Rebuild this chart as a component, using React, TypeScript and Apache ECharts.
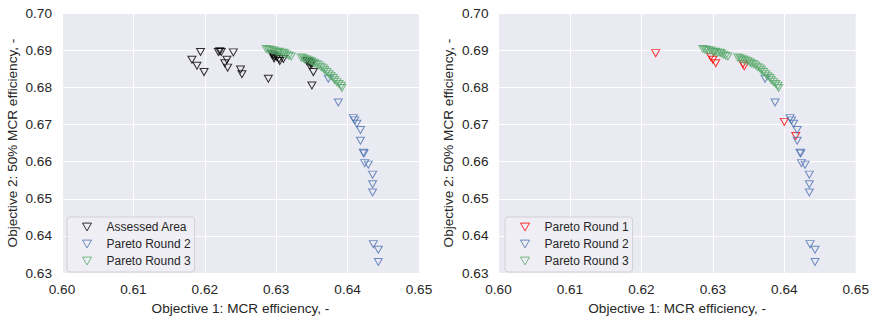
import React, { useEffect, useRef } from "react";
import * as echarts from "echarts";

const xTicks = [0.6, 0.61, 0.62, 0.63, 0.64, 0.65];
const yTicks = [0.63, 0.64, 0.65, 0.66, 0.67, 0.68, 0.69, 0.7];

const assessedX = [0.6194, 0.6182, 0.6189, 0.6199, 0.6219, 0.6221, 0.6223, 0.624, 0.6231, 0.6228, 0.6232, 0.625, 0.6252, 0.6289, 0.6294, 0.6296, 0.6298, 0.6301, 0.6304, 0.6305, 0.631, 0.6297, 0.6343, 0.6346, 0.6347, 0.635, 0.6352, 0.635, 0.6348];
const assessedY = [0.6895, 0.6874, 0.6858, 0.6841, 0.6895, 0.6897, 0.6895, 0.6894, 0.6874, 0.6865, 0.6853, 0.6848, 0.6835, 0.6823, 0.6889, 0.6886, 0.6884, 0.6881, 0.6876, 0.6871, 0.6876, 0.6878, 0.6871, 0.6868, 0.6858, 0.6863, 0.6841, 0.6805, 0.6865];

const round1X = [0.622, 0.6297, 0.63, 0.6304, 0.6342, 0.6344, 0.64, 0.6416];
const round1Y = [0.6892, 0.6882, 0.6874, 0.6865, 0.6863, 0.6857, 0.6707, 0.6669];

const round2X = [0.6387, 0.6408, 0.641, 0.6413, 0.6418, 0.6418, 0.6423, 0.6422, 0.6424, 0.6429, 0.6435, 0.6435, 0.6435, 0.6436, 0.6443, 0.6443, 0.6373];
const round2Y = [0.6759, 0.6717, 0.6711, 0.6702, 0.6685, 0.6656, 0.6622, 0.6624, 0.6596, 0.6592, 0.6565, 0.6539, 0.6517, 0.6378, 0.6363, 0.633, 0.6823];

const round3X = [0.6286, 0.6289, 0.6291, 0.6294, 0.6297, 0.63, 0.6302, 0.6304, 0.6307, 0.631, 0.6312, 0.6315, 0.6318, 0.6321, 0.6335, 0.6338, 0.634, 0.6343, 0.6346, 0.6349, 0.6352, 0.6354, 0.6357, 0.636, 0.6363, 0.6366, 0.6368, 0.6371, 0.6374, 0.6377, 0.638, 0.6382, 0.6385, 0.6388, 0.6391, 0.6392];
const round3Y = [0.6903, 0.6901, 0.6901, 0.6899, 0.6899, 0.6896, 0.6895, 0.6896, 0.6893, 0.6893, 0.6891, 0.6888, 0.6885, 0.6883, 0.688, 0.6878, 0.6875, 0.6875, 0.6872, 0.687, 0.6867, 0.6864, 0.6862, 0.6859, 0.6854, 0.6851, 0.6846, 0.6841, 0.6835, 0.683, 0.6825, 0.6819, 0.6814, 0.6809, 0.6804, 0.6798];

const zip = (xs: number[], ys: number[]) => xs.map((x, i) => [x, ys[i]]);

const FONT = "'Liberation Sans', Arial, sans-serif";
const TRI = "path://M0,0L10,0L5,8.66Z";
const BG = "#EAEAF2";

function scatter(name: string, color: string, data: number[][], idx: number) {
  return {
    type: "scatter",
    name,
    xAxisIndex: idx,
    yAxisIndex: idx,
    data,
    symbol: TRI,
    symbolSize: [8, 7],
    itemStyle: { color: "rgba(0,0,0,0)", borderColor: color, borderWidth: 1 },
  };
}

function xAxis(idx: number) {
  return {
    type: "value",
    gridIndex: idx,
    min: 0.6,
    max: 0.65,
    interval: 0.01,
    name: "Objective 1: MCR efficiency, -",
    nameLocation: "middle",
    nameGap: 26,
    nameTextStyle: { fontFamily: FONT, fontSize: 13.6, color: "#262626", verticalAlign: "top" },
    axisLine: { show: false },
    axisTick: { show: false },
    axisLabel: {
      fontFamily: FONT,
      fontSize: 13.6,
      color: "#262626",
      margin: 9,
      formatter: (v: number) => (xTicks.some((t) => Math.abs(t - v) < 1e-9) ? v.toFixed(2) : ""),
    },
    splitLine: { show: true, lineStyle: { color: "#ffffff", width: 1 } },
  };
}

function yAxis(idx: number) {
  return {
    type: "value",
    gridIndex: idx,
    min: 0.63,
    max: 0.7,
    interval: 0.01,
    name: "Objective 2: 50% MCR efficiency, -",
    nameLocation: "middle",
    nameGap: 43,
    nameTextStyle: { fontFamily: FONT, fontSize: 13.6, color: "#262626" },
    axisLine: { show: false },
    axisTick: { show: false },
    axisLabel: {
      fontFamily: FONT,
      fontSize: 13.6,
      color: "#262626",
      margin: 10,
      formatter: (v: number) => (yTicks.some((t) => Math.abs(t - v) < 1e-9) ? v.toFixed(2) : ""),
    },
    splitLine: { show: true, lineStyle: { color: "#ffffff", width: 1 } },
  };
}

function legend(left: number, names: string[]) {
  return {
    orient: "vertical",
    left,
    top: 217,
    data: names,
    icon: TRI,
    itemWidth: 9,
    itemHeight: 8,
    itemGap: 3,
    padding: [3, 4, 4, 15],
    backgroundColor: "rgba(238,238,244,0.85)",
    borderColor: "#D0D0D6",
    borderWidth: 1,
    borderRadius: 3,
    selectedMode: false,
    itemStyle: { borderWidth: 1 },
    textStyle: { fontFamily: FONT, fontSize: 12, color: "#262626", padding: [0, 0, 0, 10], lineHeight: 14 },
  };
}

export default function App() {
  const ref = useRef<HTMLDivElement>(null);
  useEffect(() => {
    if (!ref.current) return;
    const chart = echarts.init(ref.current, null, { renderer: "svg" });
    chart.setOption({
      animation: false,
      backgroundColor: "#ffffff",
      grid: [
        { left: 62, top: 13, width: 357, height: 265, show: true, backgroundColor: BG, borderWidth: 0 },
        { left: 498.5, top: 13, width: 358, height: 265, show: true, backgroundColor: BG, borderWidth: 0 },
      ],
      xAxis: [xAxis(0), xAxis(1)],
      yAxis: [yAxis(0), yAxis(1)],
      legend: [
        legend(67, ["Assessed Area", "Pareto Round 2", "Pareto Round 3"]),
        legend(505, ["Pareto Round 1", "Pareto Round 2", "Pareto Round 3"]),
      ],
      series: [
        scatter("Assessed Area", "#000000", zip(assessedX, assessedY), 0),
        scatter("Pareto Round 2", "#4C72B0", zip(round2X, round2Y), 0),
        scatter("Pareto Round 3", "#55A868", zip(round3X, round3Y), 0),
        scatter("Pareto Round 1", "#FF0000", zip(round1X, round1Y), 1),
        scatter("Pareto Round 2", "#4C72B0", zip(round2X, round2Y), 1),
        scatter("Pareto Round 3", "#55A868", zip(round3X, round3Y), 1),
      ],
    });
    return () => chart.dispose();
  }, []);
  return <div ref={ref} style={{ position: "fixed", left: 0, top: 0, width: 872, height: 320 }} />;
}
